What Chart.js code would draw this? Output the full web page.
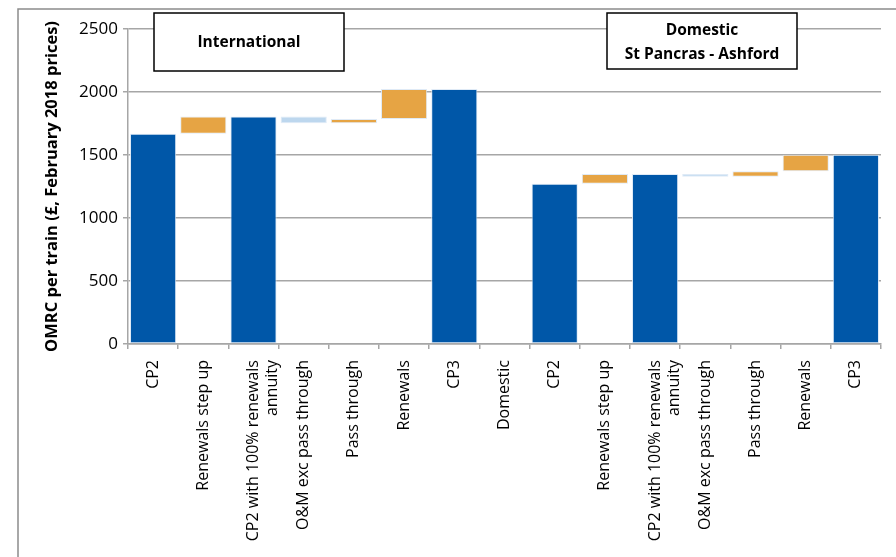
<!DOCTYPE html>
<html>
<head>
<meta charset="utf-8">
<script src="https://cdn.jsdelivr.net/npm/chart.js@4.4.0/dist/chart.umd.min.js"></script>
<style>
  html, body { margin: 0; padding: 0; background: #fff; }
  #wrap { position: relative; width: 896px; height: 557px; }
</style>
</head>
<body>
<div id="wrap"><canvas id="omrcChart" width="896" height="557"></canvas></div>
<script>
// OMRC per train waterfall - International vs Domestic
var categories = [
  'CP2', 'Renewals step up', ['CP2 with 100% renewals', 'annuity'], 'O&M exc pass through',
  'Pass through', 'Renewals', 'CP3', 'Domestic',
  'CP2', 'Renewals step up', ['CP2 with 100% renewals', 'annuity'], 'O&M exc pass through',
  'Pass through', 'Renewals', 'CP3'
];
// bottom and top of each floating bar
var barFrom = [0, 1668, 0, 1751, 1751, 1786, 0, null, 0, 1271, 0, 1327, 1327, 1371, 0];
var barTo   = [1668, 1806, 1806, 1806, 1786, 2023, 2023, null, 1271, 1350, 1350, 1350, 1371, 1501, 1501];
// total / up / down
var barKind = ['total', 'up', 'total', 'down', 'up', 'up', 'total', null,
               'total', 'up', 'total', 'down', 'up', 'up', 'total'];
var yTicks = [0, 500, 1000, 1500, 2000, 2500];

var kindColour = { total: '#0057A8', up: '#E6A444', down: '#BDD7EE' };

var bars = [];
for (var i = 0; i < categories.length; i++) {
  bars.push(barFrom[i] === null ? null : [barFrom[i], barTo[i]]);
}

// boxes and the outer frame
var boxPlugin = {
  id: 'boxes',
  beforeDraw: function(chart) {
    var ctx = chart.ctx;
    ctx.save();
    ctx.strokeStyle = '#8c8c8c';
    ctx.lineWidth = 1.5;
    ctx.beginPath();
    ctx.moveTo(18, 557);
    ctx.lineTo(18, 9);
    ctx.lineTo(896, 9);
    ctx.stroke();
    ctx.restore();
  },
  afterDraw: function(chart) {
    var ctx = chart.ctx;
    ctx.save();
    ctx.fillStyle = '#fff';
    ctx.strokeStyle = '#000';
    ctx.lineWidth = 1.5;
    ctx.fillRect(154, 13, 190, 58);
    ctx.strokeRect(154, 13, 190, 58);
    ctx.fillRect(607, 13, 190, 56);
    ctx.strokeRect(607, 13, 190, 56);
    ctx.fillStyle = '#000';
    ctx.font = 'bold 15.5px "Open Sans"';
    ctx.textAlign = 'center';
    ctx.textBaseline = 'middle';
    ctx.fillText('International', 249, 43);
    ctx.fillText('Domestic', 702, 31);
    ctx.fillText('St Pancras - Ashford', 702, 55);
    ctx.restore();
  }
};

var ctx = document.getElementById('omrcChart');
var chart = new Chart(ctx, {
  type: 'bar',
  data: {
    labels: categories,
    datasets: [{
      data: bars,
      backgroundColor: barKind.map(function(k) { return k ? kindColour[k] : 'transparent'; }),
      borderColor: 'rgba(220,232,245,0.9)',
      borderWidth: 1,
      borderSkipped: false,
      barPercentage: 0.92,
      categoryPercentage: 1.0
    }]
  },
  options: {
    responsive: false,
    animation: false,
    layout: { padding: { top: 29, right: 15, left: 0, bottom: 0 } },
    plugins: {
      legend: { display: false },
      tooltip: { enabled: false }
    },
    scales: {
      x: {
        grid: { drawOnChartArea: false, drawTicks: true, tickLength: 5, color: '#a6a6a6', lineWidth: 1.5 },
        border: { color: '#a6a6a6', width: 1.5 },
        ticks: {
          autoSkip: false, minRotation: 90, maxRotation: 90, padding: 11,
          color: '#000', font: { family: 'Open Sans', size: 16 }
        },
        afterFit: function(scale) { scale.height = 213; }
      },
      y: {
        min: 0, max: 2500,
        afterBuildTicks: function(scale) {
          scale.ticks = yTicks.map(function(v) { return { value: v }; });
        },
        grid: { color: '#a6a6a6', lineWidth: 1.5, tickLength: 5 },
        border: { color: '#a6a6a6', width: 1.5 },
        ticks: {
          padding: 5, color: '#000', font: { family: 'Open Sans', size: 17 },
          callback: function(v) { return String(v); }
        },
        title: {
          display: true,
          text: 'OMRC per train (£, February 2018 prices)',
          color: '#000',
          font: { family: 'Open Sans', size: 16.5, weight: 'bold' },
          padding: { top: 42, bottom: 0 }
        },
        afterFit: function(scale) { scale.width = 128; }
      }
    }
  },
  plugins: [boxPlugin]
});
</script>
</body>
</html>
